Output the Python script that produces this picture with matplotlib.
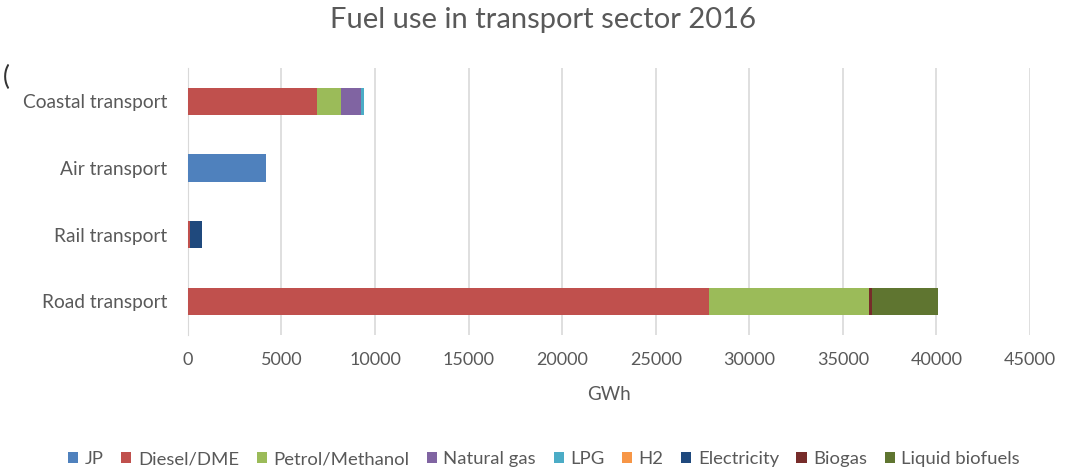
import matplotlib.pyplot as plt
import numpy as np

plt.rcParams['font.family'] = ['Lato', 'DejaVu Sans']

# categories (bottom to top)
sectors = ['Road transport', 'Rail transport', 'Air transport', 'Coastal transport']
fuels = ['JP', 'Diesel/DME', 'Petrol/Methanol', 'Natural gas', 'LPG', 'H2',
         'Electricity', 'Biogas', 'Liquid biofuels']
colors = ['#4F81BD', '#C0504D', '#9BBB59', '#8064A2', '#4BACC6', '#F79646',
          '#1F497D', '#772C2A', '#5F7530']

# GWh per fuel, in order of sectors
jp = [0, 0, 4170, 0]
diesel = [27850, 100, 0, 6900]
petrol = [8550, 0, 0, 1280]
natural_gas = [0, 0, 0, 1070]
lpg = [0, 0, 0, 150]
h2 = [0, 0, 0, 0]
electricity = [0, 680, 0, 0]
biogas = [150, 0, 0, 0]
liquid_biofuels = [3540, 0, 0, 0]

series = [jp, diesel, petrol, natural_gas, lpg, h2, electricity, biogas, liquid_biofuels]

fig = plt.figure(figsize=(10.73, 4.71), dpi=100)
ax = fig.add_axes([0.175, 0.289, 0.785, 0.567])

y = np.arange(len(sectors))
left = np.zeros(len(sectors))
for vals, name, col in zip(series, fuels, colors):
    ax.barh(y, vals, left=left, height=0.41, color=col, label=name, zorder=3)
    left += np.array(vals)

ax.set_xlim(0, 45000)
ax.set_ylim(-0.5, 3.5)
ax.set_xticks(range(0, 45001, 5000))
ax.set_yticks(y)
ax.set_yticklabels(sectors)
ax.grid(axis='x', color='#d9d9d9', lw=1.2, zorder=0)
for s in ['top', 'right', 'bottom']:
    ax.spines[s].set_visible(False)
ax.spines['left'].set_color('#d9d9d9')
ax.tick_params(length=0, colors='#595959', labelsize=13)
ax.tick_params(axis='y', labelsize=13.8, pad=15)
ax.tick_params(axis='x', pad=12)
ax.set_xlabel('GWh', fontsize=13.5, color='#595959', labelpad=13)

fig.text(0.506, 0.957, 'Fuel use in transport sector 2016', ha='center', va='center',
         fontsize=21, color='#595959')
fig.text(0.003, 0.835, '(', fontsize=19, color='#333333', va='center')

fig.legend(loc='center', bbox_to_anchor=(0.507, 0.025), ncol=9, frameon=False,
           fontsize=13.3, handlelength=0.55, handleheight=0.55, handletextpad=0.35,
           columnspacing=0.95, labelcolor='#595959')

fig.savefig('out.png', dpi=100)
